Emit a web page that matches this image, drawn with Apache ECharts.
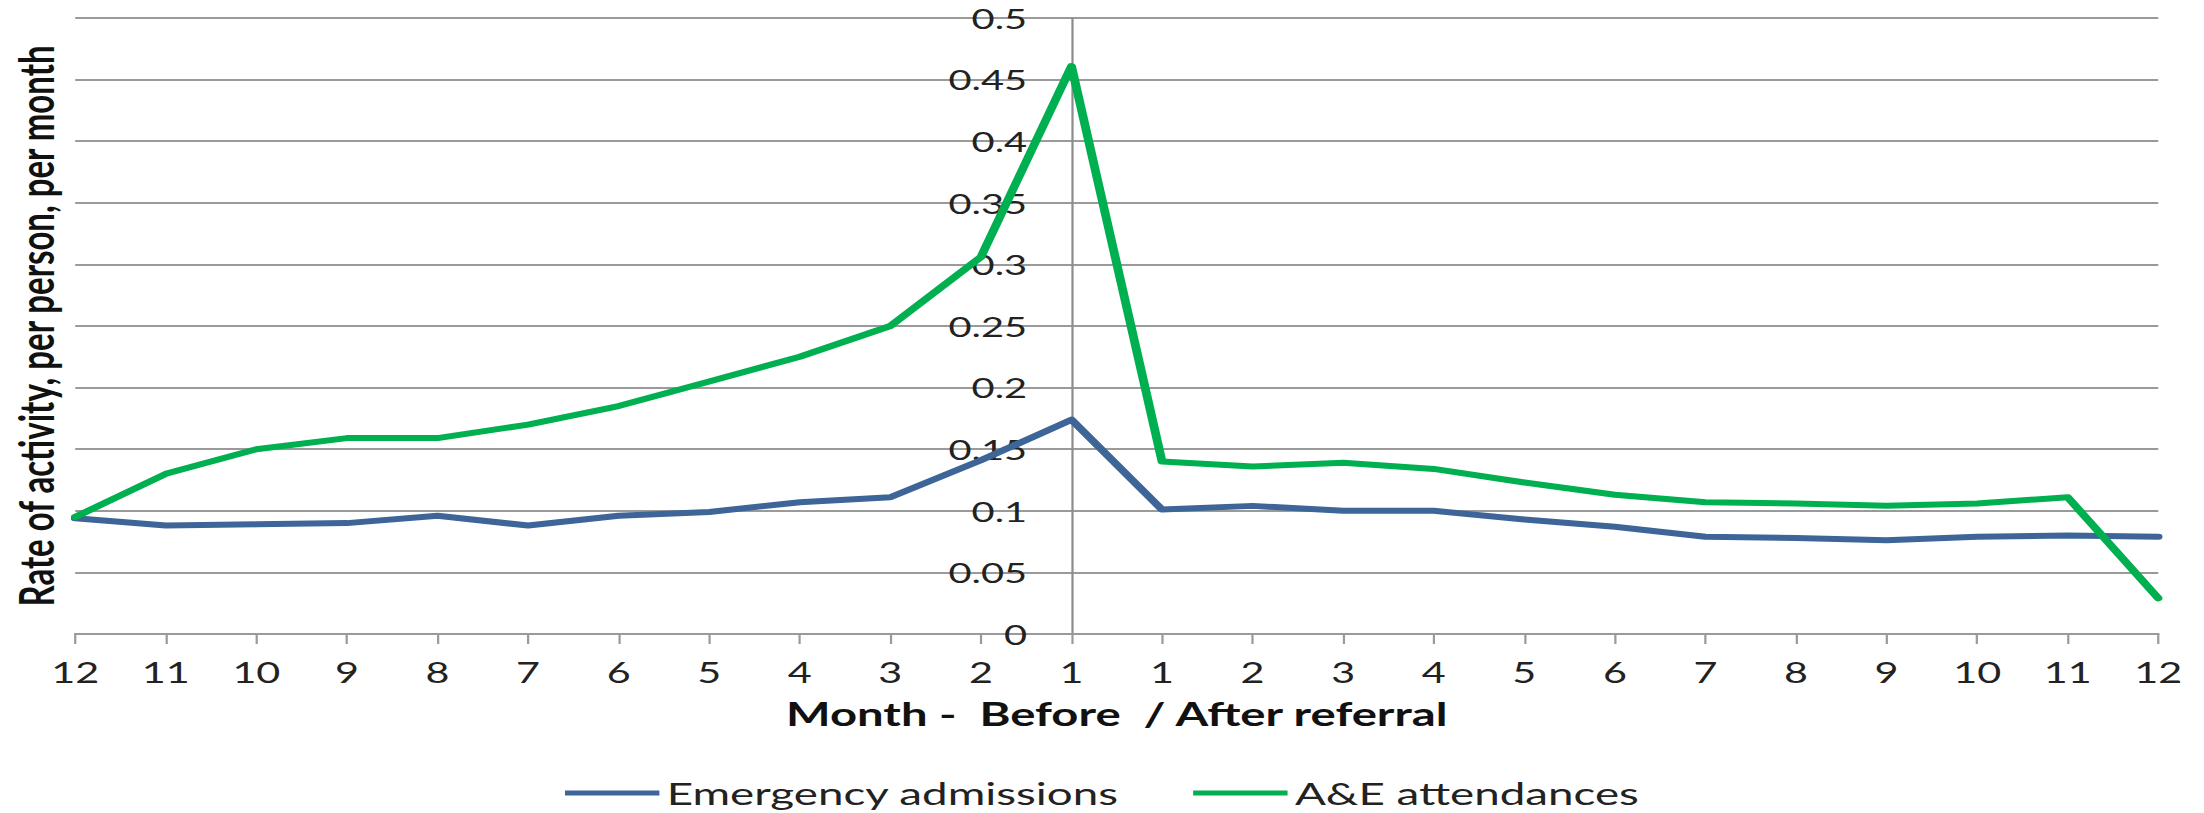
<!DOCTYPE html>
<html>
<head>
<meta charset="utf-8">
<script src="https://cdn.jsdelivr.net/npm/echarts@6/dist/echarts.min.js"></script>
<style>
  html, body { margin: 0; padding: 0; background: #fff; }
  #wrap { width: 2204px; height: 813px; overflow: hidden; }
  #chart { width: 1494px; height: 813px; transform: scaleX(1.47523); transform-origin: 0 0; }
</style>
</head>
<body>
<div id="wrap"><div id="chart"></div></div>
<script>
// Tick labels along the month axis (12 months before referral, 12 after)
const tickLabels = ['12','11','10','9','8','7','6','5','4','3','2','1',
                    '1','2','3','4','5','6','7','8','9','10','11','12'];
const categories = tickLabels.map((l, i) => (i < 12 ? 'Before ' : 'After ') + l);

const emergencyAdmissions = [0.094, 0.088, 0.089, 0.090, 0.096, 0.088, 0.096, 0.099, 0.107, 0.111, 0.141, 0.174,
                             0.101, 0.104, 0.100, 0.100, 0.093, 0.087, 0.079, 0.078, 0.076, 0.079, 0.080, 0.079];
const aeAttendances      = [0.095, 0.130, 0.150, 0.159, 0.159, 0.170, 0.185, 0.205, 0.225, 0.250, 0.306, 0.461,
                             0.140, 0.136, 0.139, 0.134, 0.123, 0.113, 0.107, 0.106, 0.104, 0.106, 0.111, 0.029];

const seriesNames = ['Emergency admissions', 'A&E attendances'];
const yTitle = 'Rate of activity, per person, per month';
const xTitle = 'Month -  Before  / After referral';

const W = 1494, GL = 51, GR = 31;
const gridW = W - GL - GR;
const refIndex = 11; // y-axis sits on "1 month before"

const chart = echarts.init(document.getElementById('chart'), null, { renderer: 'svg' });
chart.setOption({
  animation: false,
  backgroundColor: '#fff',
  textStyle: { fontFamily: 'Lato' },
  grid: { left: GL, right: GR, top: 18, bottom: 179, containLabel: false },
  legend: {
    data: seriesNames,
    left: 'center',
    top: 776,
    padding: 0,
    icon: 'rect',
    itemWidth: 64,
    itemHeight: 5,
    itemGap: 50,
    textStyle: { fontFamily: 'Lato', fontSize: 31, color: '#222', lineHeight: 34 }
  },
  graphic: [{
    type: 'text',
    x: 24,
    y: 326,
    rotation: Math.PI / 2,
    style: {
      text: yTitle,
      font: 'bold 33px Lato',
      fill: '#111',
      align: 'center',
      verticalAlign: 'middle'
    }
  }],
  xAxis: {
    type: 'category',
    data: categories,
    boundaryGap: false,
    name: xTitle,
    nameLocation: 'middle',
    nameGap: 64,
    nameTextStyle: { fontFamily: 'Lato', fontWeight: 'bold', fontSize: 32, color: '#111' },
    axisLine: { lineStyle: { color: '#9a9a9a', width: 2 } },
    axisTick: { show: true, length: 10, alignWithLabel: true, lineStyle: { color: '#9a9a9a', width: 1.5 } },
    axisLabel: {
      margin: 24,
      fontSize: 28,
      color: '#222',
      interval: 0,
      formatter: (v, i) => tickLabels[i]
    },
    splitLine: { show: false }
  },
  yAxis: {
    type: 'value',
    min: 0,
    max: 0.5,
    interval: 0.05,
    position: 'left',
    offset: -gridW * refIndex / (categories.length - 1),
    axisLine: { show: true, onZero: false, lineStyle: { color: '#8c8c8c', width: 1.5 } },
    axisTick: { show: false },
    axisLabel: { margin: 30, fontSize: 27, color: '#222' },
    splitLine: { show: true, lineStyle: { color: '#9a9a9a', width: 2 } }
  },
  series: [
    {
      name: seriesNames[0],
      type: 'line',
      data: emergencyAdmissions,
      symbol: 'none',
      color: '#3d6597',
      lineStyle: { width: 6, color: '#3d6597', cap: 'round', join: 'round' }
    },
    {
      name: seriesNames[1],
      type: 'line',
      data: aeAttendances,
      symbol: 'none',
      color: '#00b050',
      lineStyle: { width: 6, color: '#00b050', cap: 'round', join: 'round' }
    }
  ]
});
</script>
</body>
</html>
